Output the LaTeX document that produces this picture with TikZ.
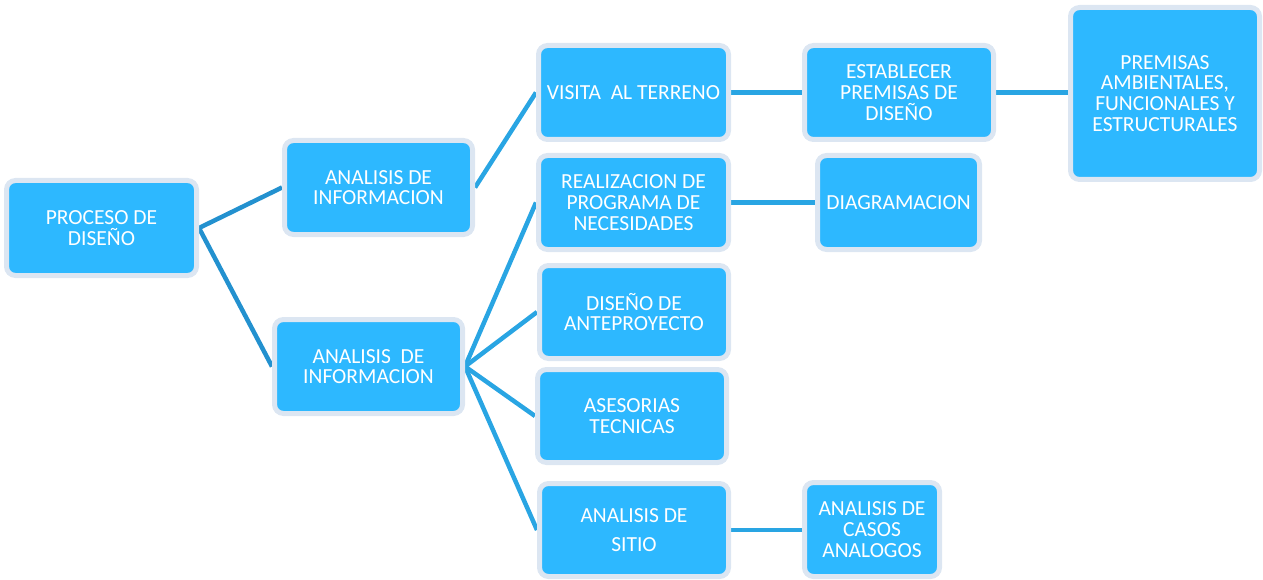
\documentclass[tikz,border=0pt]{standalone}
\usepackage{fontspec}
\setmainfont{Carlito}
\usetikzlibrary{backgrounds}
\definecolor{boxblue}{RGB}{45,184,255}
\definecolor{rimcol}{RGB}{220,230,242}
\definecolor{linkdark}{RGB}{35,145,207}
\definecolor{linklight}{RGB}{41,165,227}
\tikzset{
  box/.style={draw=rimcol, line width=5pt, fill=boxblue, rounded corners=9pt,
    text=white, align=center, inner sep=0pt,
    font=\fontsize{21.5}{20.8}\selectfont},
  linkd/.style={draw=linkdark, line width=4.5pt},
  linkl/.style={draw=linklight, line width=4.5pt},
}
\newcommand{\bx}[6]{\node[box, minimum width=#4pt-5pt, minimum height=#5pt-5pt] (#1) at (#2,#3) {#6};}
\begin{document}
\begin{tikzpicture}[x=1pt,y=-1pt]
\useasboundingbox (0,0) rectangle (1263,580);
\bx{proc}{101.5}{228}{195}{100}{PROCESO DE\\DISEÑO}
\bx{anaA}{378.5}{187.5}{193}{99}{ANALISIS DE\\INFORMACION}
\bx{anaB}{368.5}{366.5}{193}{99}{ANALISIS\ \ DE\\INFORMACION}
\bx{visita}{633.5}{92.5}{195}{99}{VISITA\ \ AL TERRENO}
\bx{estab}{899}{92.5}{194}{99}{ESTABLECER\\PREMISAS DE\\DISEÑO}
\bx{prem}{1165}{93.5}{194}{177}{PREMISAS\\AMBIENTALES,\\FUNCIONALES Y\\ESTRUCTURALES}
\bx{real}{633.5}{202.5}{195}{99}{REALIZACION DE\\PROGRAMA DE\\NECESIDADES}
\bx{diag}{898.5}{202.5}{167}{99}{DIAGRAMACION}
\bx{dis}{634}{312}{194}{98}{DISEÑO DE\\ANTEPROYECTO}
\bx{ases}{632}{416}{194}{98}{ASESORIAS\\TECNICAS}
\bx{sitio}{634}{530}{194}{98}{ANALISIS DE\\[8pt]SITIO}
\bx{casos}{872}{529.5}{140}{99}{ANALISIS DE\\CASOS\\ANALOGOS}
\begin{scope}[on background layer]
\draw[linkd] (anaA.west) -- (proc.east) -- (anaB.west);
\draw[linkl] (anaA.east) -- (visita.west);
\draw[linkl] (visita.east) -- (estab.west);
\draw[linkl] (estab.east) -- (prem.west |- estab.east);
\draw[linkl] (real.east) -- (diag.west);
\draw[linkl] (anaB.east) -- (real.west);
\draw[linkl] (anaB.east) -- (dis.west);
\draw[linkl] (anaB.east) -- (ases.west);
\draw[linkl] (anaB.east) -- (sitio.west);
\draw[linkl] (sitio.east) -- (casos.west |- sitio.east);
\end{scope}
\end{tikzpicture}
\end{document}
